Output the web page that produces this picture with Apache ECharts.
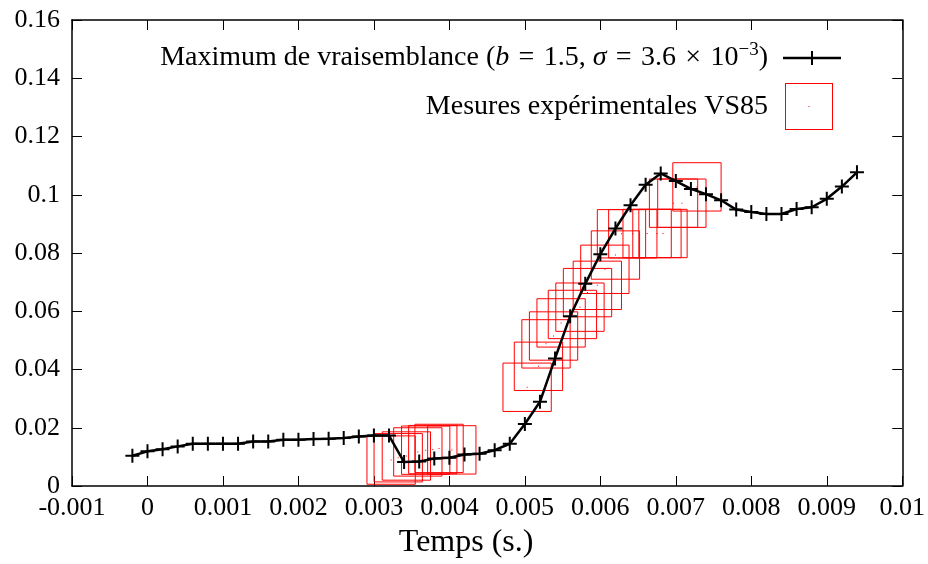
<!DOCTYPE html>
<html>
<head>
<meta charset="utf-8">
<script src="https://cdn.jsdelivr.net/npm/echarts@6/dist/echarts.min.js"></script>
<style>html,body{margin:0;padding:0;background:#fff;overflow:hidden}#c{width:928px;height:564px}</style>
</head>
<body>
<div id="c"></div>
<script>
// Model curve: time (s) and value
const lineX = [-0.0002, 0, 0.0002, 0.0004, 0.0006, 0.0008, 0.001, 0.0012, 0.0014, 0.0016,
  0.0018, 0.002, 0.0022, 0.0024, 0.0026, 0.0028, 0.003, 0.0032, 0.0034, 0.0036,
  0.0038, 0.004, 0.0042, 0.0044, 0.0046, 0.0048, 0.005, 0.0052, 0.0054, 0.0056,
  0.0058, 0.006, 0.0062, 0.0064, 0.0066, 0.0068, 0.007, 0.0072, 0.0074, 0.0076,
  0.0078, 0.008, 0.0082, 0.0084, 0.0086, 0.0088, 0.009, 0.0092, 0.0094];
const lineY = [0.0104, 0.0119, 0.0126, 0.0136, 0.0145, 0.0145, 0.0145, 0.0145, 0.0153, 0.0153,
  0.0159, 0.0159, 0.0161, 0.0162, 0.0165, 0.0170, 0.0173, 0.0173, 0.0082, 0.0084,
  0.0094, 0.0097, 0.0108, 0.0111, 0.0123, 0.0145, 0.0213, 0.0289, 0.0438, 0.0583,
  0.0694, 0.0796, 0.0884, 0.0964, 0.1034, 0.1073, 0.1047, 0.1020, 0.1002, 0.0981,
  0.0949, 0.0941, 0.0934, 0.0934, 0.0951, 0.0957, 0.0986, 0.1028, 0.1077];

// Experimental measurements (box centers)
const measX = [0.003228, 0.003322, 0.00343, 0.003582, 0.003686, 0.00378, 0.003863, 0.004032,
  0.00503, 0.00518, 0.00528, 0.00538, 0.00548, 0.00563, 0.00573, 0.00583, 0.00596, 0.00606,
  0.0062, 0.00628, 0.00643, 0.00662, 0.00675, 0.00683, 0.00697, 0.00708, 0.00728];
const measY = [0.0089, 0.0097, 0.0103, 0.0117, 0.0123, 0.0125, 0.0129, 0.0124,
  0.0339, 0.0411, 0.0488, 0.0515, 0.0560, 0.0589, 0.0614, 0.0664, 0.0689, 0.0744,
  0.0793, 0.0866, 0.0866, 0.0867, 0.0867, 0.0867, 0.0971, 0.0971, 0.1027];
// Measurement uncertainty (half widths of the boxes)
const errX = 0.00032;
const errY = 0.0083;

const xTicks = {min: -0.001, max: 0.01, interval: 0.001};
const yTicks = {min: 0, max: 0.16, interval: 0.02};

const NAME1 = 'Maximum de vraisemblance';
const NAME2 = 'Mesures expérimentales VS85';

const FONT = 'Liberation Serif';
const chart = echarts.init(document.getElementById('c'), null, {renderer: 'canvas'});

const plusPath = 'path://M0,6L6,6L6,0L8,0L8,6L14,6L14,8L8,8L8,14L6,14L6,8L0,8Z';
const lineIcon = 'path://M0,5.75L58,5.75L58,8.25L0,8.25Z M28,0L30,0L30,14L28,14Z M22,6L36,6L36,8L22,8Z';
const boxIcon = 'path://M0,0L48,0L48,47L0,47Z M1,1L1,46L47,46L47,1Z M23.5,23L24.5,23L24.5,24L23.5,24Z';

const fmt = v => {
  const r = Math.round(v * 1000000) / 1000000;
  return String(r);
};

const axisCommon = {
  axisLine: {show: true, onZero: false, lineStyle: {color: '#000', width: 1.5}},
  axisTick: {show: true, inside: true, length: 10, lineStyle: {color: '#000', width: 1}},
  splitLine: {show: false}
};

const SP = '\u2004';

chart.setOption({
  animation: false,
  backgroundColor: '#fff',
  textStyle: {fontFamily: FONT},
  grid: {left: 72, width: 834, top: 20, height: 471, containLabel: false},
  legend: [{
    data: [{name: NAME1, icon: lineIcon}],
    right: 82, top: 36,
    align: 'right',
    itemWidth: 58, itemHeight: 14,
    itemStyle: {color: '#000', borderWidth: 0},
    formatter: () => '{n|Maximum de vraisemblance (}{i|b}{n|' + SP + '=' + SP + '1.5, }{i|σ}{n|' + SP + '=' + SP + '3.6' + SP + '×' + SP + '10}{s|−3}{n|)}',
    textStyle: {
      fontFamily: FONT, color: '#000', padding: [0, 10, 0, 0],
      rich: {
        n: {fontFamily: FONT, fontSize: 28, color: '#000', lineHeight: 34},
        i: {fontFamily: FONT, fontSize: 28, fontStyle: 'italic', color: '#000', lineHeight: 34},
        s: {fontFamily: FONT, fontSize: 19, color: '#000', verticalAlign: 'top', lineHeight: 20}
      }
    }
  }, {
    data: [{name: NAME2, icon: boxIcon}],
    right: 90, top: 78,
    align: 'right',
    itemWidth: 48, itemHeight: 47,
    itemStyle: {color: '#ff0000', borderWidth: 0},
    textStyle: {fontFamily: FONT, fontSize: 28, color: '#000', padding: [0, 12, 0, 0]}
  }],
  xAxis: [{
    type: 'value', position: 'bottom',
    min: xTicks.min, max: xTicks.max, interval: xTicks.interval,
    name: 'Temps (s.)', nameLocation: 'middle', nameGap: 41,
    nameTextStyle: {fontFamily: FONT, fontSize: 32, color: '#000', padding: [0, 42, 0, 0]},
    axisLabel: {fontFamily: FONT, fontSize: 26, color: '#000', margin: 9, formatter: fmt},
    ...axisCommon
  }, {
    type: 'value', position: 'top',
    min: xTicks.min, max: xTicks.max, interval: xTicks.interval,
    axisLabel: {show: false},
    ...axisCommon
  }],
  yAxis: [{
    type: 'value', position: 'left',
    min: yTicks.min, max: yTicks.max, interval: yTicks.interval,
    axisLabel: {fontFamily: FONT, fontSize: 26, color: '#000', margin: 12, formatter: fmt},
    ...axisCommon
  }, {
    type: 'value', position: 'right',
    min: yTicks.min, max: yTicks.max, interval: yTicks.interval,
    axisLabel: {show: false},
    ...axisCommon
  }],
  series: [{
    name: NAME2,
    type: 'custom',
    xAxisIndex: 0, yAxisIndex: 0,
    z: 2,
    encode: {x: 0, y: 1},
    data: measX.map((x, i) => [x, measY[i]]),
    renderItem: (params, api) => {
      const x = api.value(0), y = api.value(1);
      const p1 = api.coord([x - errX, y + errY]);
      const p2 = api.coord([x + errX, y - errY]);
      const c = api.coord([x, y]);
      return {
        type: 'group',
        children: [{
          type: 'rect',
          shape: {x: p1[0], y: p1[1], width: p2[0] - p1[0], height: p2[1] - p1[1]},
          style: {fill: null, stroke: '#ff0000', lineWidth: 1}
        }, {
          type: 'rect',
          shape: {x: c[0] - 0.5, y: c[1] - 0.5, width: 1, height: 1},
          style: {fill: '#ff0000'}
        }]
      };
    }
  }, {
    name: NAME1,
    type: 'line',
    xAxisIndex: 0, yAxisIndex: 0,
    z: 3,
    data: lineX.map((x, i) => [x, lineY[i]]),
    symbol: plusPath,
    symbolSize: 14,
    showAllSymbol: true,
    itemStyle: {color: '#000', borderWidth: 0},
    lineStyle: {color: '#000', width: 2.5}
  }]
});
</script>
</body>
</html>
